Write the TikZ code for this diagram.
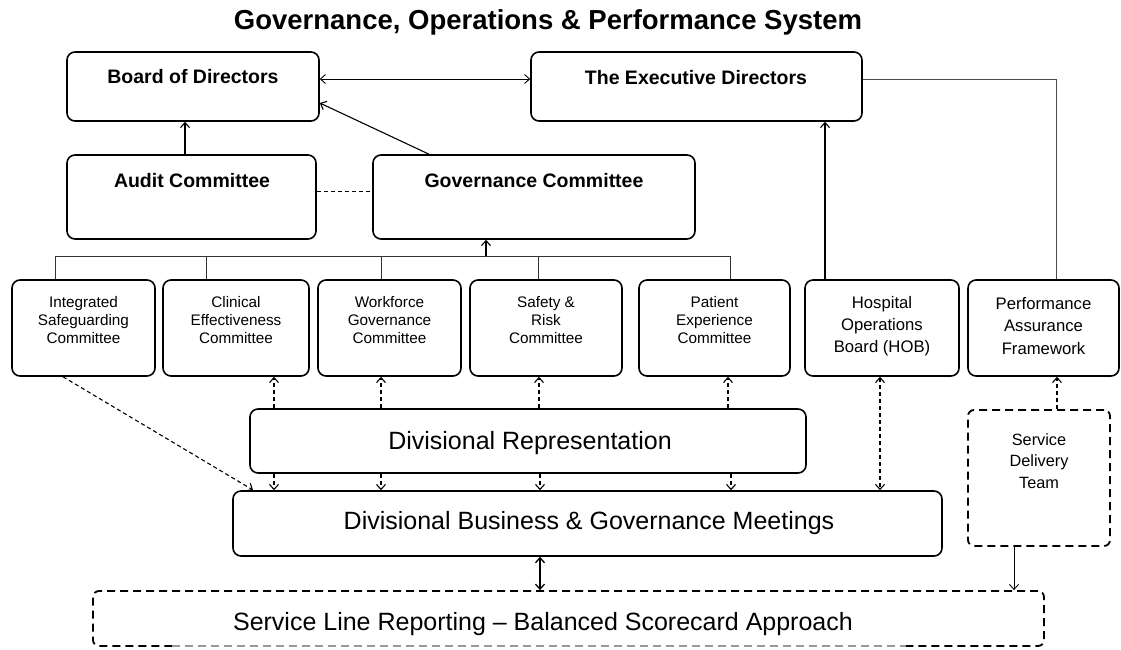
\documentclass[tikz,border=0pt]{standalone}
\usepackage{fontspec}
\setmainfont{Liberation Sans}
\usetikzlibrary{arrows.meta,fit}
\tikzset{
  box/.style={draw, line width=1.6pt, rounded corners=8pt, inner sep=0pt},
  dbox/.style={draw, line width=1.8pt, rounded corners=6pt, inner sep=0pt, dash pattern=on 8pt off 5pt},
  hdtext/.style={font=\fontsize{19.5}{22}\selectfont\bfseries},
  comtext/.style={align=center, font=\fontsize{15.3}{18}\selectfont},
  comtextb/.style={align=center, font=\fontsize{16.7}{22.3}\selectfont},
  bigtext/.style={font=\fontsize{25}{29}\selectfont},
  tip/.tip={Straight Barb[length=5pt,width=9pt]},
  con/.style={line width=1.1pt, -tip},
  dcon/.style={line width=1.1pt, dash pattern=on 4pt off 3pt, -tip},
  bus/.style={line width=0.9pt, draw=black!80},
}
\begin{document}
\begin{tikzpicture}[x=1pt,y=-1pt]
\useasboundingbox (0,0) rectangle (1121,649);
% title
\node[font=\fontsize{27.5}{32}\selectfont\bfseries] (title) at (548,22) {Governance, Operations \& Performance System};
% top boxes
\node[box, fit={(67,52)(319,121)}] (bod) {};
\node[hdtext] (bodt) at (193,77) {Board of Directors};
\node[box, fit={(531,52)(862,121)}] (exec) {};
\node[hdtext] (exect) at (696,78) {The Executive Directors};
\node[box, fit={(67,155)(316,239)}] (aud) {};
\node[hdtext] (audt) at (192,181) {Audit Committee};
\node[box, fit={(373,155)(695,239)}] (gov) {};
\node[hdtext] (govt) at (534,181) {Governance Committee};
% committee row
\node[box, fit={(12,280)(155,376)}] (isc) {};
\node[comtext] (isct) at (83.5,320) {Integrated\\Safeguarding\\Committee};
\node[box, fit={(163,280)(309,376)}] (cec) {};
\node[comtext] (cect) at (236,320) {Clinical\\Effectiveness\\Committee};
\node[box, fit={(318,280)(461,376)}] (wgc) {};
\node[comtext] (wgct) at (389.5,320) {Workforce\\Governance\\Committee};
\node[box, fit={(470,280)(622,376)}] (src) {};
\node[comtext] (srct) at (546,320) {Safety \&\\Risk\\Committee};
\node[box, fit={(639,280)(790,376)}] (pec) {};
\node[comtext] (pect) at (714.5,320) {Patient\\Experience\\Committee};
\node[box, fit={(805,280)(959,376)}] (hob) {};
\node[comtextb] (hobt) at (882,326) {Hospital\\Operations\\Board (HOB)};
\node[box, fit={(968,280)(1119,376)}] (paf) {};
\node[comtextb] (paft) at (1043.5,326) {Performance\\Assurance\\Framework};
% divisional
\node[box, fit={(250,409)(806,473)}] (dr) {};
\node[bigtext] (drt) at (530,443) {Divisional Representation};
\node[box, fit={(233,491)(942,556)}] (db) {};
\node[bigtext] (dbt) at (589,523) {Divisional Business \& Governance Meetings};
\node[dbox, fit={(968,410)(1110,546)}] (sdt) {};
\node[align=center, font=\fontsize{16.3}{21.7}\selectfont] (sdtt) at (1039,461) {Service\\Delivery\\Team};
\node[dbox, fit={(93,591)(1044,646)}] (slr) {};
\draw[white, line width=2.6pt] (172,646) -- (906,646);
\draw[black!40, line width=1.6pt, dash pattern=on 8pt off 5pt] (172,646) -- (906,646);
\node[bigtext] (slrt) at (543,624) {Service Line Reporting -- Balanced Scorecard Approach};
% connectors top
\draw[line width=0.9pt, tip-tip] (bod.east |- 0,79) -- (exec.west |- 0,79);
\draw[con] (gov.north -| 429,0) -- (bod.east |- 0,103);
\draw[con] (aud.north -| 185,0) -- (bod.south -| 185,0);
\draw[line width=1pt, dash pattern=on 4pt off 3pt] (aud.east |- 0,191) -- (gov.west |- 0,191);
\draw[line width=0.9pt, draw=black!70] (exec.east |- 0,79) -| (paf.north -| 1056,0);
\draw[con] (hob.north -| 825,0) -- (exec.south -| 825,0);
% bus
\coordinate (busl) at (55,256);
\coordinate (busr) at (730,256);
\draw[bus] (isc.north -| busl) -- (busl) -- (busr) -- (pec.north -| busr);
\draw[bus] (cec.north -| 206,0) -- (206,256);
\draw[bus] (wgc.north -| 381,0) -- (381,256);
\draw[bus] (src.north -| 538,0) -- (538,256);
\coordinate (busg) at (486,256);
\draw[con] (busg) -- (gov.south -| busg);
% dashed up arrows
\draw[dcon] (dr.north -| 274,0) -- (cec.south -| 274,0);
\draw[dcon] (dr.north -| 381,0) -- (wgc.south -| 381,0);
\draw[dcon] (dr.north -| 539,0) -- (src.south -| 539,0);
\draw[dcon] (dr.north -| 728,0) -- (pec.south -| 728,0);
% down arrows dr -> db
\draw[dcon] (dr.south -| 274,0) -- (db.north -| 274,0);
\draw[dcon] (dr.south -| 381,0) -- (db.north -| 381,0);
\draw[dcon] (dr.south -| 540,0) -- (db.north -| 540,0);
\draw[dcon] (dr.south -| 731,0) -- (db.north -| 731,0);
% integrated dashed
\coordinate (dbtip) at (253,490);
\draw[dcon] (isc.south -| 63,0) -- (dbtip);
% HOB double dashed
\draw[dcon, tip-tip] (hob.south -| 880,0) -- (db.north -| 880,0);
% SDT -> PAF
\draw[dcon] (sdt.north -| 1057,0) -- (paf.south -| 1057,0);
% SDT -> SLR
\draw[con, line width=0.9pt] (sdt.south -| 1014,0) -- (slr.north -| 1014,0);
% DB <-> SLR
\draw[line width=1.3pt, tip-tip] (db.south -| 540,0) -- (slr.north -| 540,0);
\end{tikzpicture}
\end{document}
